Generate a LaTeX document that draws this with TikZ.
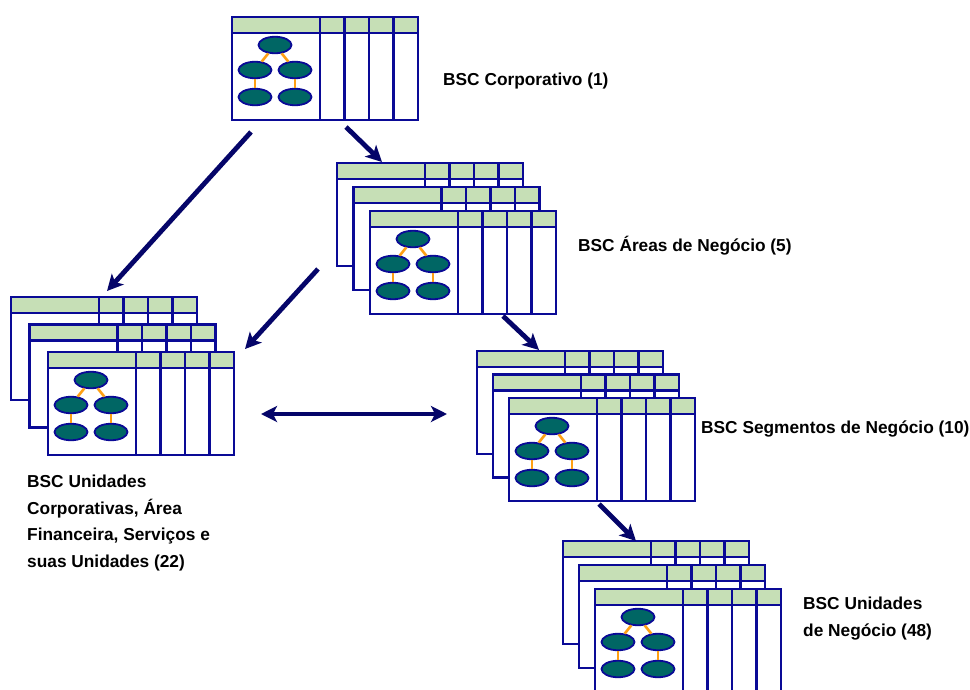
\documentclass[tikz,border=0pt]{standalone}
\usepackage{fontspec}
\setmainfont{Liberation Sans}
\usetikzlibrary{arrows.meta,shapes.geometric}

\definecolor{cardblue}{RGB}{10,10,150}
\definecolor{arrownavy}{RGB}{5,5,105}
\definecolor{hdrgreen}{RGB}{198,223,182}
\definecolor{leafteal}{RGB}{0,102,100}
\definecolor{twigorange}{RGB}{255,160,20}

\tikzset{
  cardbox/.style={draw=cardblue, line width=2.3pt, fill=white, rectangle,
    minimum width=186pt, minimum height=103pt, inner sep=0pt, outer sep=0pt,
    anchor=north west},
  hdr/.style={draw=cardblue, line width=2.3pt, fill=hdrgreen},
  colline/.style={draw=cardblue, line width=2.3pt},
  leaf/.style={ellipse, draw=cardblue, line width=1.8pt, fill=leafteal,
    minimum width=33pt, minimum height=16.5pt, inner sep=0pt},
  twig/.style={draw=twigorange, line width=2.6pt},
  bigarrow/.style={draw=arrownavy, line width=4.8pt,
    -{Stealth[length=16pt,width=16pt,inset=4pt]}},
  dblarrow/.style={draw=arrownavy, line width=4.8pt,
    {Stealth[length=16pt,width=16pt,inset=4pt]}-{Stealth[length=16pt,width=16pt,inset=4pt]}},
  lbl/.style={font=\bfseries\fontsize{17.3}{26.5}\selectfont, inner sep=0pt, align=left}
}

% One scorecard sheet: frame, green header row, four narrow columns
\newcommand\bscsheet[3]{% #1 name, #2 x, #3 y of the top-left corner
  \node[cardbox] (#1) at (#2,#3) {};
  \path[hdr] (#1.north west) rectangle ([yshift=-16pt]#1.north east);
  \foreach \c in {88,112.5,137,161.5}
    \path[colline] ([xshift=\c pt]#1.north west) -- ([xshift=\c pt]#1.south west);
  \path[colline] (#1.north west) rectangle (#1.south east);
}

% The small objective tree drawn in the wide column of a front sheet
\newcommand\bsctree[1]{%
  \node[leaf] (#1-a) at ([shift={(43pt,-28pt)}]#1.north west) {};
  \node[leaf] (#1-b) at ([shift={(23pt,-53pt)}]#1.north west) {};
  \node[leaf] (#1-c) at ([shift={(63pt,-53pt)}]#1.north west) {};
  \node[leaf] (#1-d) at ([shift={(23pt,-80pt)}]#1.north west) {};
  \node[leaf] (#1-e) at ([shift={(63pt,-80pt)}]#1.north west) {};
  \draw[twig] (#1-a) -- (#1-b);
  \draw[twig] (#1-a) -- (#1-c);
  \draw[twig] (#1-b) -- (#1-d);
  \draw[twig] (#1-c) -- (#1-e);
}

\begin{document}
\begin{tikzpicture}[x=1pt,y=-1pt]
\useasboundingbox (0,0) rectangle (970,689);
\clip (0,0) rectangle (970,689);

% Corporate level
\bscsheet{corp}{232}{17}
\bsctree{corp}

% Business areas
\bscsheet{area1}{337}{163}
\bscsheet{area2}{353.5}{187}
\bscsheet{area3}{370}{211}
\bsctree{area3}

% Corporate units
\bscsheet{unit1}{11}{297}
\bscsheet{unit2}{29.5}{324.5}
\bscsheet{unit3}{48}{352}
\bsctree{unit3}

% Business segments
\bscsheet{seg1}{477}{351}
\bscsheet{seg2}{493}{374.5}
\bscsheet{seg3}{509}{398}
\bsctree{seg3}

% Business units
\bscsheet{bu1}{563}{541}
\bscsheet{bu2}{579}{565}
\bscsheet{bu3}{595}{589}
\bsctree{bu3}

% Arrow end points
\coordinate (a1s) at (251,132);  \coordinate (a1e) at (107,291);
\coordinate (a2s) at (346,127);  \coordinate (a2e) at (382,162);
\coordinate (a3s) at (318,269);  \coordinate (a3e) at (245,349);
\coordinate (a4s) at (503,316);  \coordinate (a4e) at (539,350);
\coordinate (a5s) at (599,504);  \coordinate (a5e) at (636,541);
\coordinate (l1) at (261,414);   \coordinate (l2) at (447,414);

\draw[bigarrow] (a1s) -- (a1e);
\draw[bigarrow] (a2s) -- (a2e);
\draw[bigarrow] (a3s) -- (a3e);
\draw[bigarrow] (a4s) -- (a4e);
\draw[bigarrow] (a5s) -- (a5e);
\draw[dblarrow] (l1) -- (l2);

% Labels
\node[lbl, anchor=base west] (tcorp) at (443,85) {BSC Corporativo (1)};
\node[lbl, anchor=base west] (tarea) at (578,251) {BSC Áreas de Negócio (5)};
\node[lbl, anchor=base west] (tseg) at (701,433) {BSC Segmentos de Negócio (10)};
\node[lbl, anchor=north west] (tunit) at (27,475)
  {BSC Unidades\\Corporativas, Área\\Financeira, Serviços e\\suas Unidades (22)};
\node[lbl, anchor=north west] (tbu) at (803,597) {BSC Unidades\\de Negócio (48)};
\end{tikzpicture}
\end{document}
